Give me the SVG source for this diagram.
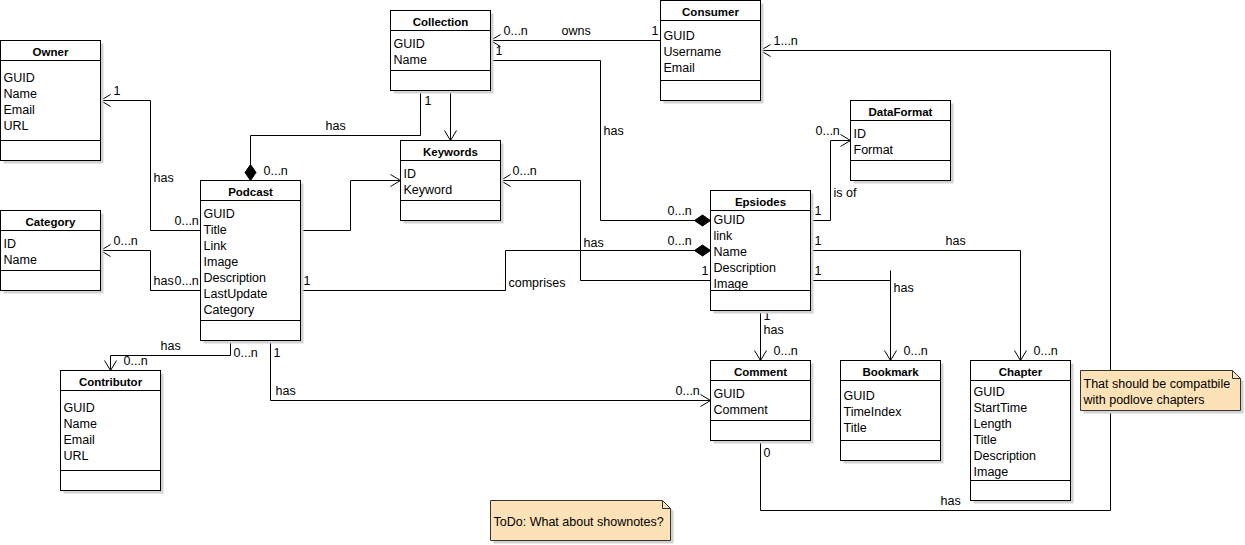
<svg xmlns="http://www.w3.org/2000/svg" width="1245" height="545" viewBox="0 0 1245 545">
<style>
.box{fill:#fff;stroke:#000;stroke-width:1}
.sh{fill:#d2d2d2}
.dv{stroke:#000;stroke-width:1}
.t{font-family:"Liberation Sans",Arial,sans-serif;font-size:11.5px;font-weight:bold;text-anchor:middle;fill:#000}
.a{font-family:"Liberation Sans",Arial,sans-serif;font-size:12.5px;fill:#000}
.l{font-family:"Liberation Sans",Arial,sans-serif;font-size:12.5px;fill:#000}
.c{fill:none;stroke:#000;stroke-width:1}
.ar{marker-end:url(#open)}
.di{marker-end:url(#dia)}
.note{fill:#fde2b8;stroke:#333;stroke-width:1}
</style>
<defs>
<marker id="open" markerUnits="userSpaceOnUse" markerWidth="14" markerHeight="14" viewBox="-12 -7 14 14" refX="0" refY="0" orient="auto">
<path d="M-10,-6 L0,0 L-10,6" fill="none" stroke="#000" stroke-width="1"/>
</marker>
<marker id="dia" markerUnits="userSpaceOnUse" markerWidth="20" markerHeight="14" viewBox="-18 -7 20 14" refX="0" refY="0" orient="auto">
<path d="M0,0 L-8,-5.5 L-16,0 L-8,5.5 Z" fill="#000" stroke="#000" stroke-width="1"/>
</marker>
</defs>
<rect width="1245" height="545" fill="#fff"/>
<g transform="translate(0.5,0.5)">
<g id="connectors">
<path class="c ar" d="M660,40 H490"/>
<path class="c di" d="M490,60 H600 V220 H710"/>
<path class="c di" d="M420,90 V135 H250 V180"/>
<path class="c ar" d="M450,90 V140"/>
<path class="c ar" d="M760,440 V510 H1110 V50 H760"/>
<path class="c ar" d="M200,230 H150 V100 H100"/>
<path class="c ar" d="M200,290 H150 V250 H100"/>
<path class="c ar" d="M300,230 H350 V180 H400"/>
<path class="c di" d="M300,290 H505 V250 H710"/>
<path class="c ar" d="M710,280 H580 V180 H500"/>
<path class="c ar" d="M810,220 H830 V140 H850"/>
<path class="c ar" d="M810,250 H1020 V360"/>
<path class="c ar" d="M810,280 H890 V360"/>
<path class="c" d="M890,270 V280"/>
<path class="c ar" d="M760,310 V360"/>
<path class="c ar" d="M230,340 V355 H110 V370"/>
<path class="c ar" d="M270,340 V400 H710"/>
<g>
<text class="l" x="503" y="34">0...n</text>
<text class="l" x="561" y="34">owns</text>
<text class="l" x="651" y="34">1</text>
<text class="l" x="495" y="54.5">1</text>
<text class="l" x="773" y="44.5">1...n</text>
<text class="l" x="424" y="104.5">1</text>
<text class="l" x="603" y="134.5">has</text>
<text class="l" x="113" y="94.5">1</text>
<text class="l" x="153" y="181.5">has</text>
<text class="l" x="325" y="129.5">has</text>
<text class="l" x="263" y="174.5">0...n</text>
<text class="l" x="174" y="224.5">0...n</text>
<text class="l" x="113" y="244.5">0...n</text>
<text class="l" x="153" y="284.5">has</text>
<text class="l" x="174" y="284.5">0...n</text>
<text class="l" x="303" y="284.5">1</text>
<text class="l" x="512" y="174.5">0...n</text>
<text class="l" x="583" y="246">has</text>
<text class="l" x="667" y="214.5">0...n</text>
<text class="l" x="667" y="244.5">0...n</text>
<text class="l" x="701" y="274">1</text>
<text class="l" x="508" y="286">comprises</text>
<text class="l" x="815" y="134.5">0...n</text>
<text class="l" x="833" y="196">is of</text>
<text class="l" x="814" y="214.5">1</text>
<text class="l" x="814" y="244.5">1</text>
<text class="l" x="814" y="274.5">1</text>
<text class="l" x="945" y="244.5">has</text>
<text class="l" x="893" y="291">has</text>
<text class="l" x="903" y="354.5">0...n</text>
<text class="l" x="1033" y="354.5">0...n</text>
<text class="l" x="763" y="319">1</text>
<text class="l" x="763" y="333">has</text>
<text class="l" x="773" y="354.5">0...n</text>
<text class="l" x="675" y="394.5">0...n</text>
<text class="l" x="763" y="456">0</text>
<text class="l" x="940" y="504.5">has</text>
<text class="l" x="160" y="349.5">has</text>
<text class="l" x="233" y="356.5">0...n</text>
<text class="l" x="273" y="356.5">1</text>
<text class="l" x="123" y="364.5">0...n</text>
<text class="l" x="275" y="394.5">has</text>
</g>
</g>

<g id="owner">
<rect class="sh" x="3" y="43" width="100" height="120"/>
<rect class="box" x="0" y="40" width="100" height="120"/>
<line class="dv" x1="0" y1="60" x2="100" y2="60"/>
<line class="dv" x1="0" y1="140" x2="100" y2="140"/>
<text class="t" x="50" y="55">Owner</text>
<text class="a" x="3" y="81">GUID</text>
<text class="a" x="3" y="97">Name</text>
<text class="a" x="3" y="113">Email</text>
<text class="a" x="3" y="129">URL</text>
</g>

<g id="collection">
<rect class="sh" x="393" y="13" width="100" height="80"/>
<rect class="box" x="390" y="10" width="100" height="80"/>
<line class="dv" x1="390" y1="30" x2="490" y2="30"/>
<line class="dv" x1="390" y1="70" x2="490" y2="70"/>
<text class="t" x="440" y="25">Collection</text>
<text class="a" x="393" y="47">GUID</text>
<text class="a" x="393" y="63">Name</text>
</g>

<g id="consumer">
<rect class="sh" x="663" y="3" width="100" height="100"/>
<rect class="box" x="660" y="0" width="100" height="100"/>
<line class="dv" x1="660" y1="20" x2="760" y2="20"/>
<line class="dv" x1="660" y1="80" x2="760" y2="80"/>
<text class="t" x="710" y="15">Consumer</text>
<text class="a" x="663" y="39">GUID</text>
<text class="a" x="663" y="55">Username</text>
<text class="a" x="663" y="71">Email</text>
</g>

<g id="keywords">
<rect class="sh" x="403" y="143" width="100" height="80"/>
<rect class="box" x="400" y="140" width="100" height="80"/>
<line class="dv" x1="400" y1="160" x2="500" y2="160"/>
<line class="dv" x1="400" y1="200" x2="500" y2="200"/>
<text class="t" x="450" y="155">Keywords</text>
<text class="a" x="403" y="177">ID</text>
<text class="a" x="403" y="193">Keyword</text>
</g>

<g id="dataformat">
<rect class="sh" x="853" y="103" width="100" height="80"/>
<rect class="box" x="850" y="100" width="100" height="80"/>
<line class="dv" x1="850" y1="120" x2="950" y2="120"/>
<line class="dv" x1="850" y1="160" x2="950" y2="160"/>
<text class="t" x="900" y="115">DataFormat</text>
<text class="a" x="853" y="137">ID</text>
<text class="a" x="853" y="153">Format</text>
</g>

<g id="podcast">
<rect class="sh" x="203" y="183" width="100" height="160"/>
<rect class="box" x="200" y="180" width="100" height="160"/>
<line class="dv" x1="200" y1="200" x2="300" y2="200"/>
<line class="dv" x1="200" y1="320" x2="300" y2="320"/>
<text class="t" x="250" y="195">Podcast</text>
<text class="a" x="203" y="217">GUID</text>
<text class="a" x="203" y="233">Title</text>
<text class="a" x="203" y="249">Link</text>
<text class="a" x="203" y="265">Image</text>
<text class="a" x="203" y="281">Description</text>
<text class="a" x="203" y="297">LastUpdate</text>
<text class="a" x="203" y="313">Category</text>
</g>

<g id="category">
<rect class="sh" x="3" y="213" width="100" height="80"/>
<rect class="box" x="0" y="210" width="100" height="80"/>
<line class="dv" x1="0" y1="230" x2="100" y2="230"/>
<line class="dv" x1="0" y1="270" x2="100" y2="270"/>
<text class="t" x="50" y="225">Category</text>
<text class="a" x="3" y="247">ID</text>
<text class="a" x="3" y="263">Name</text>
</g>

<g id="epsiodes">
<rect class="sh" x="713" y="193" width="100" height="120"/>
<rect class="box" x="710" y="190" width="100" height="120"/>
<line class="dv" x1="710" y1="210" x2="810" y2="210"/>
<line class="dv" x1="710" y1="290" x2="810" y2="290"/>
<text class="t" x="760" y="205">Epsiodes</text>
<text class="a" x="713" y="223">GUID</text>
<text class="a" x="713" y="239">link</text>
<text class="a" x="713" y="255">Name</text>
<text class="a" x="713" y="271">Description</text>
<text class="a" x="713" y="287">Image</text>
</g>

<g id="comment">
<rect class="sh" x="713" y="363" width="100" height="80"/>
<rect class="box" x="710" y="360" width="100" height="80"/>
<line class="dv" x1="710" y1="380" x2="810" y2="380"/>
<line class="dv" x1="710" y1="420" x2="810" y2="420"/>
<text class="t" x="760" y="375">Comment</text>
<text class="a" x="713" y="397">GUID</text>
<text class="a" x="713" y="413">Comment</text>
</g>

<g id="bookmark">
<rect class="sh" x="843" y="363" width="100" height="100"/>
<rect class="box" x="840" y="360" width="100" height="100"/>
<line class="dv" x1="840" y1="380" x2="940" y2="380"/>
<line class="dv" x1="840" y1="440" x2="940" y2="440"/>
<text class="t" x="890" y="375">Bookmark</text>
<text class="a" x="843" y="399">GUID</text>
<text class="a" x="843" y="415">TimeIndex</text>
<text class="a" x="843" y="431">Title</text>
</g>

<g id="chapter">
<rect class="sh" x="973" y="363" width="100" height="140"/>
<rect class="box" x="970" y="360" width="100" height="140"/>
<line class="dv" x1="970" y1="380" x2="1070" y2="380"/>
<line class="dv" x1="970" y1="480" x2="1070" y2="480"/>
<text class="t" x="1020" y="375">Chapter</text>
<text class="a" x="973" y="395">GUID</text>
<text class="a" x="973" y="411">StartTime</text>
<text class="a" x="973" y="427">Length</text>
<text class="a" x="973" y="443">Title</text>
<text class="a" x="973" y="459">Description</text>
<text class="a" x="973" y="475">Image</text>
</g>

<g id="contributor">
<rect class="sh" x="63" y="373" width="100" height="120"/>
<rect class="box" x="60" y="370" width="100" height="120"/>
<line class="dv" x1="60" y1="390" x2="160" y2="390"/>
<line class="dv" x1="60" y1="470" x2="160" y2="470"/>
<text class="t" x="110" y="385">Contributor</text>
<text class="a" x="63" y="411">GUID</text>
<text class="a" x="63" y="427">Name</text>
<text class="a" x="63" y="443">Email</text>
<text class="a" x="63" y="459">URL</text>
</g>

<g id="note-chapters">
<path class="sh" d="M1083,373 H1235 L1243,381 V413 H1083 Z"/>
<path class="note" d="M1080,370 H1232 L1240,378 V410 H1080 Z"/>
<path d="M1232,370 V378 H1240" fill="none" stroke="#333" stroke-width="1"/>
<text class="a" x="1083" y="387">That should be compatbile</text>
<text class="a" x="1083" y="403">with podlove chapters</text>
</g>

<g id="note-shownotes">
<path class="sh" d="M493,503 H665 L673,511 V543 H493 Z"/>
<path class="note" d="M490,500 H662 L670,508 V540 H490 Z"/>
<path d="M662,500 V508 H670" fill="none" stroke="#333" stroke-width="1"/>
<text class="a" x="493" y="525">ToDo: What about shownotes?</text>
</g>
</g>
</svg>
